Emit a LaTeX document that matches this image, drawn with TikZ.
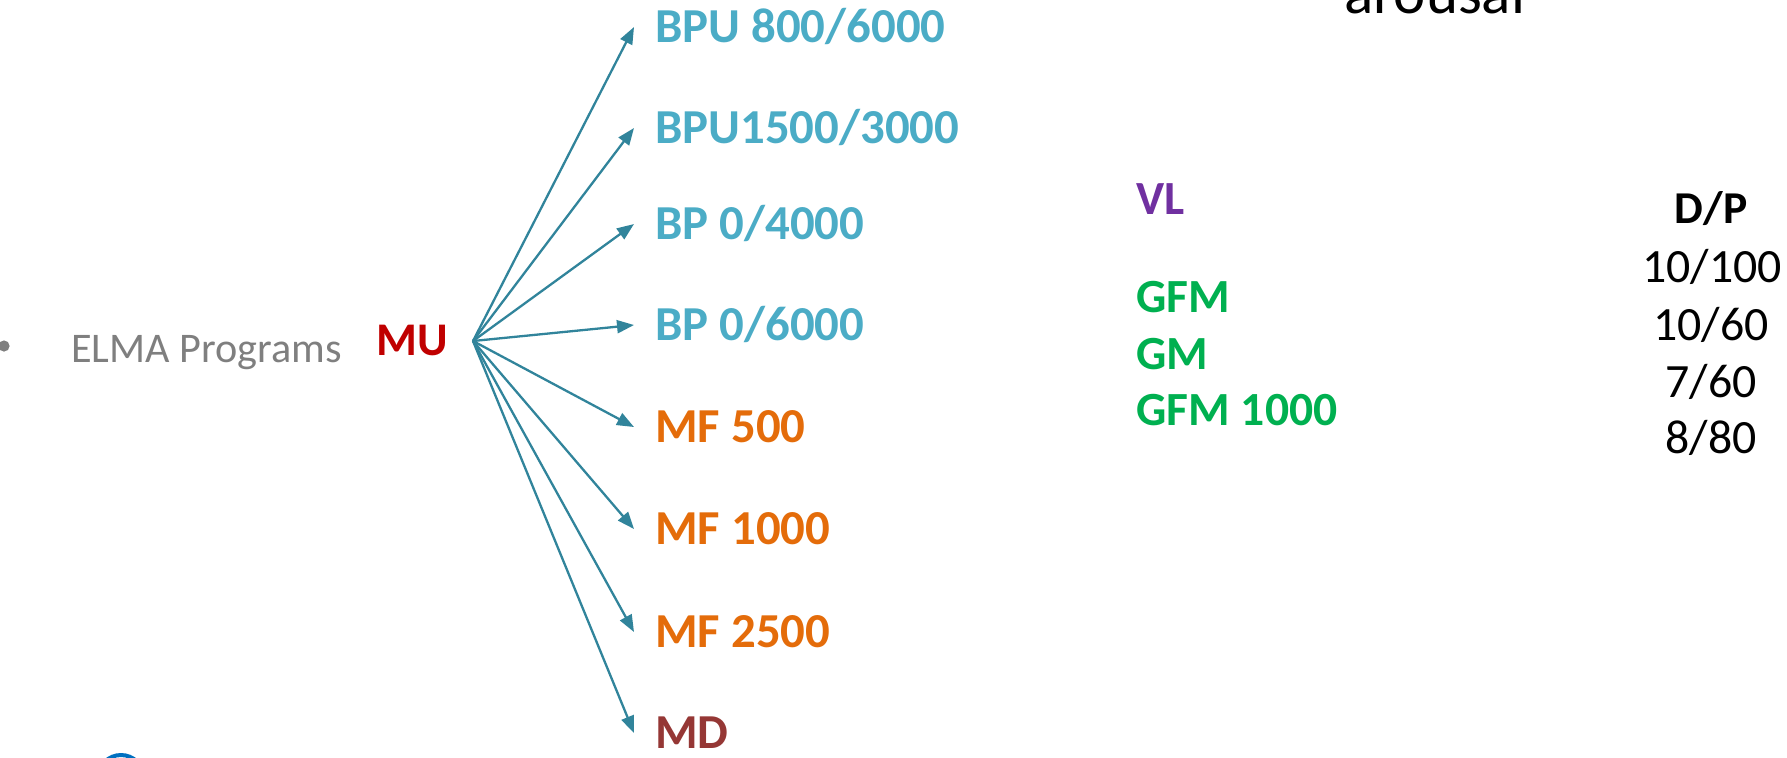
\documentclass[tikz,border=0pt]{standalone}
\usepackage{fontspec}
\setmainfont{Carlito}
\usetikzlibrary{arrows.meta}

\definecolor{linkteal}{HTML}{31849B}
\definecolor{bpblue}{HTML}{4BACC6}
\definecolor{mforange}{HTML}{E46C0A}
\definecolor{mdbrown}{HTML}{953735}
\definecolor{mured}{HTML}{C00000}
\definecolor{vlpurple}{HTML}{7030A0}
\definecolor{ggreen}{HTML}{00B050}
\definecolor{elmagray}{HTML}{7F7F7F}
\definecolor{dotblue}{HTML}{0070C0}

\tikzset{
  prog/.style={font=\fontsize{24.4}{29}\selectfont\bfseries, inner ysep=0pt,
    inner xsep=10.6pt, outer sep=0pt, text height=15pt, text depth=0pt, anchor=west},
  side/.style={font=\fontsize{23.8}{28}\selectfont\bfseries, inner sep=0pt, anchor=base west},
  dp/.style={font=\fontsize{23.9}{28}\selectfont, inner sep=0pt, anchor=base},
  link/.style={draw=linkteal, line width=1.15pt, -{Triangle[length=8.5pt,width=6.5pt]}},
}

\begin{document}
\begin{tikzpicture}[x=0.5pt, y=-0.5pt]
  \useasboundingbox (0,0) rectangle (1787,757);

  % bullet item on the left
  \fill[elmagray] (4,346) circle (2.8pt);
  \node[font=\fontsize{21.1}{26}\selectfont, text=elmagray, inner sep=0pt, anchor=base west]
    (elma) at (71,362) {ELMA Programs};

  % root of the fan
  \node[font=\fontsize{23.4}{28}\selectfont\bfseries, text=mured, inner ysep=0pt,
    inner xsep=12.5pt, text height=14pt, text depth=0pt, anchor=east] (mu) at (473,341) {MU};

  % program labels (west anchor sits where each arrow ends)
  \node[prog, text=bpblue]   (p1) at (634,27)  {BPU 800/6000};
  \node[prog, text=bpblue]   (p2) at (634,128) {BPU1500/3000};
  \node[prog, text=bpblue]   (p3) at (634,224) {BP 0/4000};
  \node[prog, text=bpblue]   (p4) at (634,325) {BP 0/6000};
  \node[prog, text=mforange] (p5) at (634,427) {MF 500};
  \node[prog, text=mforange] (p6) at (634,529) {MF 1000};
  \node[prog, text=mforange] (p7) at (634,632) {MF 2500};
  \node[prog, text=mdbrown]  (p8) at (634,733) {MD};

  \foreach \t in {p1,p2,p3,p4,p5,p6,p7,p8}
    \draw[link] (mu.east) -- (\t.west);

  % second group
  \node[side, text=vlpurple] (vl)   at (1136,214) {VL};
  \node[side, text=ggreen]   (gfm)  at (1136,312) {GFM};
  \node[side, text=ggreen]   (gm)   at (1136,369) {GM};
  \node[side, text=ggreen]   (gfmk) at (1136,425) {GFM 1000};

  % D/P column
  \node[dp, font=\fontsize{22.8}{27}\selectfont\bfseries] (dph) at (1711,223) {D/P};
  \node[dp] (d1) at (1712,282) {10/100};
  \node[dp] (d2) at (1711,340) {10/60};
  \node[dp] (d3) at (1711,397) {7/60};
  \node[dp] (d4) at (1711,453) {8/80};

  % heading running off the top edge
  \node[font=\fontsize{30.5}{36}\selectfont, inner sep=0pt, anchor=base west] (arousal) at (1344,13) {arousal};

  % ring running off the bottom edge
  \draw[dotblue, line width=2pt] (121,778) circle (11.5pt);
\end{tikzpicture}
\end{document}
